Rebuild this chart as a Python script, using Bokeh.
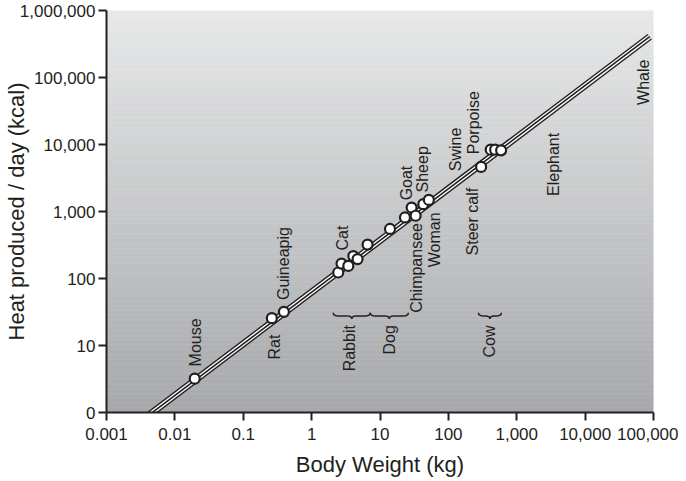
import numpy as np
from bokeh.plotting import figure
from bokeh.models import FixedTicker, Range1d, ColumnDataSource
from bokeh.core.properties import value
from bokeh.embed import file_html
from bokeh.resources import INLINE

# ---------------- data ----------------
animal_mass_kg = [0.0195, 0.262, 0.393, 2.45, 2.74, 3.44, 4.07, 4.70, 6.58, 14.0,
                  23.2, 29.0, 33.2, 43.0, 51.8, 301, 416, 483, 591]
heat_kcal_day = [3.2, 25.6, 31.8, 123, 167, 154, 216, 195, 321, 549,
                 815, 1146, 864, 1286, 1490, 4630, 8380, 8380, 8180]

# regression line  heat = coef * mass ** exponent
fit_coef = 62.6
fit_exp = 0.771
fit_mass_range = [0.003, 88000]

label_text = ["Mouse", "Rat", "Guineapig", "Cat", "Rabbit", "Dog", "Chimpansee", "Woman",
              "Goat", "Sheep", "Swine", "Porpoise", "Steer calf", "Cow", "Elephant", "Whale"]
label_mass = [0.0198, 0.283, 0.384, 2.85, 3.6, 13.9, 34.0, 63.0,
              24.3, 41.6, 126, 232, 224, 405, 3500, 72000]
label_heat = [4.87, 6.18, 47.7, 262, 4.11, 7.33, 30.7, 147,
              1466, 1923, 4000, 7150, 221, 6.62, 1706, 38900]

brace_start = [2.07, 7.2, 275]
brace_end = [7.2, 26, 597]
brace_heat = [30.7, 30.7, 30.7]

x_ticks = [0.001, 0.01, 0.1, 1, 10, 100, 1000, 10000, 100000]
x_tick_labels = ["0.001", "0.01", "0.1", "1", "10", "100", "1,000", "10,000", "100,000"]
y_ticks = [1, 10, 100, 1000, 10000, 100000, 1000000]
y_tick_labels = ["0", "10", "100", "1,000", "10,000", "100,000", "1,000,000"]

# ---------------- style ----------------
FONT = "Liberation Sans"
INK = "#231f20"
TOP_GRAY = np.array([231, 232, 233])
BOTTOM_GRAY = np.array([166, 168, 171])

p = figure(width=678, height=479, x_axis_type="log", y_axis_type="log",
           x_range=Range1d(x_ticks[0], x_ticks[-1]), y_range=Range1d(y_ticks[0], y_ticks[-1]),
           output_backend="svg", toolbar_location=None,
           min_border_left=100, min_border_right=25, min_border_top=10, min_border_bottom=67)
p.outline_line_color = None
p.grid.visible = False
p.background_fill_color = None
p.border_fill_color = "white"

# vertical gradient background (strips in log space)
n = 160
lo, hi = np.log10(y_ticks[0]), np.log10(y_ticks[-1]) + 0.02
edges = np.linspace(lo, hi, n + 1)
fr = (np.arange(n) + 0.5) / n
cols = ["#%02x%02x%02x" % tuple(int(round(c)) for c in (BOTTOM_GRAY + (TOP_GRAY - BOTTOM_GRAY) * f)) for f in fr]
p.quad(left=x_ticks[0], right=x_ticks[-1], bottom=10 ** edges[:-1], top=10 ** edges[1:],
       fill_color=cols, line_color=cols, line_width=0.6)

# regression line: three black strokes
fx = np.array(fit_mass_range, dtype=float)
fy = fit_coef * fx ** fit_exp
p.line(fx, fy, line_color=INK, line_width=7)
p.line(fx, fy, line_color="white", line_width=4.2)
p.line(fx, fy, line_color=INK, line_width=1.6)

# points
src = ColumnDataSource(dict(x=animal_mass_kg, y=heat_kcal_day))
p.scatter("x", "y", source=src, size=10, fill_color="white", line_color=INK, line_width=2.2)

# labels
lsrc = ColumnDataSource(dict(x=label_mass, y=label_heat, t=label_text))
p.text("x", "y", text="t", source=lsrc, angle=np.pi / 2, text_align="left", text_baseline="middle",
       text_font=value(FONT), text_font_size="16px", text_color=INK)

# curly braces (under-braces)
dec_r = 0.06
h1, h2 = 0.045, 0.09
qx0, qy0, qx1, qy1, qcx, qcy = [], [], [], [], [], []
sx0, sy0, sx1, sy1 = [], [], [], []
for a, b, yv in zip(brace_start, brace_end, brace_heat):
    la, lb, ly = np.log10(a), np.log10(b), np.log10(yv)
    lm = (la + lb) / 2
    ymid, ybot = ly - h1, ly - h2
    for (x0, y0, x1, y1, cx, cy) in [(la, ly, la + dec_r, ymid, la, ymid),
                                      (lm - dec_r, ymid, lm, ybot, lm, ymid),
                                      (lm, ybot, lm + dec_r, ymid, lm, ymid),
                                      (lb - dec_r, ymid, lb, ly, lb, ymid)]:
        qx0.append(10 ** x0); qy0.append(10 ** y0); qx1.append(10 ** x1); qy1.append(10 ** y1)
        qcx.append(10 ** cx); qcy.append(10 ** cy)
    for (x0, x1) in [(la + dec_r, lm - dec_r), (lm + dec_r, lb - dec_r)]:
        sx0.append(10 ** x0); sx1.append(10 ** x1); sy0.append(10 ** ymid); sy1.append(10 ** ymid)
p.quadratic(x0=qx0, y0=qy0, x1=qx1, y1=qy1, cx=qcx, cy=qcy, line_color=INK, line_width=1.5)
p.segment(x0=sx0, y0=sy0, x1=sx1, y1=sy1, line_color=INK, line_width=1.5)

# axes
for ax, ticks, labels in [(p.xaxis[0], x_ticks, x_tick_labels), (p.yaxis[0], y_ticks, y_tick_labels)]:
    ax.ticker = FixedTicker(ticks=ticks)
    ax.major_label_overrides = {t: l for t, l in zip(ticks, labels)}
    ax.minor_tick_line_color = None
    ax.major_tick_in = 0
    ax.major_tick_out = 8
    ax.major_tick_line_width = 2
    ax.major_tick_line_color = INK
    ax.axis_line_width = 2
    ax.axis_line_color = INK
    ax.major_label_text_font = FONT
    ax.major_label_text_font_size = "17px"
    ax.major_label_text_color = INK
    ax.axis_label_text_font = FONT
    ax.axis_label_text_font_size = "22px"
    ax.axis_label_text_font_style = "normal"
    ax.axis_label_text_color = INK

p.xaxis.axis_label = "Body Weight (kg)"
p.yaxis.axis_label = "Heat produced / day (kcal)"
p.xaxis.major_label_standoff = 7
p.xaxis.axis_label_standoff = 9
p.yaxis.major_label_standoff = 3
p.yaxis.axis_label_standoff = -12

open("out.html", "w").write(file_html(p, INLINE))
